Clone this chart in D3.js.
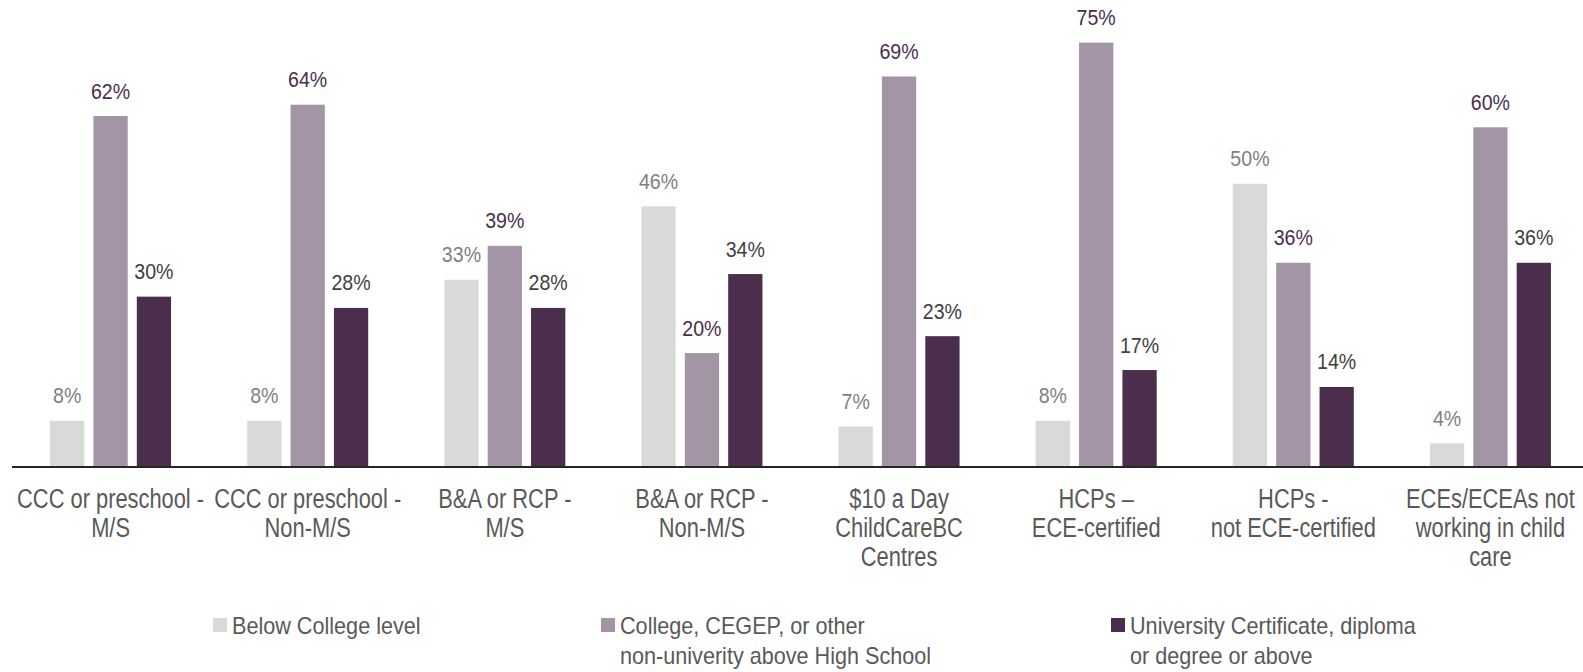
<!DOCTYPE html>
<html>
<head>
<meta charset="utf-8">
<script src="https://cdn.jsdelivr.net/npm/d3@7"></script>
<style>
  body { margin: 0; background: #fff; }
  svg { display: block; font-family: "Liberation Sans Narrow", "Arial Narrow", "Liberation Sans", Arial, sans-serif; }
  .axis path, .axis line { display: none; }
</style>
</head>
<body>
<svg id="chart" width="1583" height="672"></svg>
<script>
var categories = [
  "CCC or preschool -|M/S",
  "CCC or preschool -|Non-M/S",
  "B&A or RCP -|M/S",
  "B&A or RCP -|Non-M/S",
  "$10 a Day|ChildCareBC|Centres",
  "HCPs –|ECE-certified",
  "HCPs -|not ECE-certified",
  "ECEs/ECEAs not|working in child|care"
];
var seriesNames = [
  "Below College level",
  "College, CEGEP, or other|non-univerity above High School",
  "University Certificate, diploma|or degree or above"
];
var belowCollege = [8, 8, 33, 46, 7, 8, 50, 4];
var college = [62, 64, 39, 20, 69, 75, 36, 60];
var university = [30, 28, 28, 34, 23, 17, 14, 36];

var seriesValues = [belowCollege, college, university];
var barColors = ["#d9d9d9", "#a395a5", "#4a2e4c"];
var labelColors = ["#808080", "#4a2e4c", "#404040"];

// no narrow font installed, so squeeze the regular one horizontally
var squeeze = { val: 0.87, cat: 0.81, leg: 0.94 };

var svg = d3.select("#chart"),
    baseY = 466;

var x0 = d3.scaleBand()
  .domain(categories)
  .range([12, 1589])
  .paddingInner(0)
  .paddingOuter(0);

var x1 = d3.scaleBand()
  .domain(d3.range(3))
  .range([-60.5, 60.5])
  .paddingInner(0.21);

var y = d3.scaleLinear()
  .domain([0, 100])
  .range([baseY, baseY - 564.5]);

var groups = svg.append("g").selectAll("g")
  .data(categories)
  .enter().append("g")
  .attr("transform", function(d) { return "translate(" + (x0(d) + x0.bandwidth() / 2) + ",0)"; });

function rows(d, i) {
  return seriesValues.map(function(s, k) { return {k: k, v: s[i]}; });
}

groups.selectAll("rect")
  .data(rows)
  .enter().append("rect")
  .attr("x", function(d) { return x1(d.k); })
  .attr("width", x1.bandwidth())
  .attr("y", function(d) { return y(d.v); })
  .attr("height", function(d) { return y(0) - y(d.v); })
  .attr("fill", function(d) { return barColors[d.k]; });

groups.selectAll("text.val")
  .data(rows)
  .enter().append("text")
  .attr("class", "val")
  .attr("transform", function(d) {
    return "translate(" + (x1(d.k) + x1.bandwidth() / 2) + "," + (y(d.v) - 17.5) + ") scale(" + squeeze.val + ",1)";
  })
  .attr("text-anchor", "middle")
  .attr("font-size", "22.5px")
  .attr("fill", function(d) { return labelColors[d.k]; })
  .text(function(d) { return d.v + "%"; });

// baseline
svg.append("line")
  .attr("x1", 12).attr("x2", 1583)
  .attr("y1", y(0) + 1).attr("y2", y(0) + 1)
  .attr("stroke", "#262626")
  .attr("stroke-width", 2);

// category axis
var xAxis = svg.append("g")
  .attr("class", "axis")
  .attr("transform", "translate(0," + baseY + ")")
  .call(d3.axisBottom(x0).tickSize(0).tickFormat(""));

xAxis.selectAll(".tick text").remove();
xAxis.selectAll(".tick").append("text")
  .attr("text-anchor", "middle")
  .attr("fill", "#595959")
  .attr("font-size", "27px")
  .attr("transform", "scale(" + squeeze.cat + ",1)")
  .each(function(d) {
    var t = d3.select(this);
    d.split("|").forEach(function(line, i) {
      t.append("tspan").attr("x", 0).attr("y", 42 + i * 29).text(line);
    });
  });

// legend
var legendX = [213, 601, 1111];
var legend = svg.append("g").selectAll("g")
  .data(seriesNames)
  .enter().append("g")
  .attr("transform", function(d, i) { return "translate(" + legendX[i] + ",618)"; });

legend.append("rect")
  .attr("width", 14).attr("height", 14)
  .attr("fill", function(d, i) { return barColors[i]; });

legend.append("text")
  .attr("font-size", "23px")
  .attr("fill", "#595959")
  .attr("transform", "translate(19,0) scale(" + squeeze.leg + ",1)")
  .each(function(d) {
    var t = d3.select(this);
    d.split("|").forEach(function(line, i) {
      t.append("tspan").attr("x", 0).attr("y", 16 + i * 30).text(line);
    });
  });
</script>
</body>
</html>
